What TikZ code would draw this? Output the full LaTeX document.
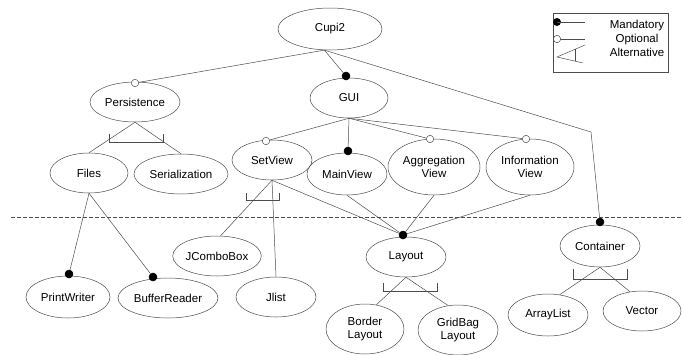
\documentclass[tikz,border=0pt]{standalone}
\usepackage{fontspec}
\setmainfont{Liberation Sans}
\usetikzlibrary{shapes.geometric}

\begin{document}
\begin{tikzpicture}[x=1pt,y=-1pt,line width=0.5pt,draw=black!70,
  feat/.style={ellipse,draw=black!70,inner sep=0pt,align=center,text=black,
    font=\fontsize{11.5}{13.5}\selectfont},
  man/.style={circle,draw=black,fill=black,inner sep=0pt,minimum size=8pt},
  opt/.style={circle,draw=black!70,fill=white,inner sep=0pt,minimum size=7.5pt}]
  \useasboundingbox (0,0) rectangle (682,354);
  \node[feat,minimum width=104pt,minimum height=42pt] (cupi) at (330,29) {Cupi2};
  \node[feat,minimum width=90pt,minimum height=40pt] (persist) at (135,102) {Persistence};
  \node[feat,minimum width=78pt,minimum height=40pt] (gui) at (349,98) {GUI};
  \node[feat,minimum width=78pt,minimum height=40pt] (files) at (89,173) {Files};
  \node[feat,minimum width=94pt,minimum height=40pt] (serial) at (181,174) {Serialization};
  \node[feat,minimum width=80pt,minimum height=40pt] (setview) at (272,160) {SetView};
  \node[feat,minimum width=80pt,minimum height=42pt] (mainview) at (347,174) {MainView};
  \node[feat,minimum width=92pt,minimum height=56pt] (aggview) at (434,167) {Aggregation\\View};
  \node[feat,minimum width=88pt,minimum height=56pt] (infoview) at (530,167) {Information\\View};
  \node[feat,minimum width=84pt,minimum height=40pt] (combo) at (217,256) {JComboBox};
  \node[feat,minimum width=80pt,minimum height=40pt] (jlist) at (276,297) {Jlist};
  \node[feat,minimum width=84pt,minimum height=42pt] (printw) at (68,297) {PrintWriter};
  \node[feat,minimum width=100pt,minimum height=40pt] (bufread) at (168,298) {BufferReader};
  \node[feat,minimum width=80pt,minimum height=40pt] (layout) at (406,257) {Layout};
  \node[feat,minimum width=78pt,minimum height=50pt] (border) at (365,329) {Border\\Layout};
  \node[feat,minimum width=80pt,minimum height=50pt] (gridbag) at (458,330) {GridBag\\Layout};
  \node[feat,minimum width=80pt,minimum height=42pt] (contain) at (600,246) {Container};
  \node[feat,minimum width=80pt,minimum height=42pt] (arrlist) at (548,315) {ArrayList};
  \node[feat,minimum width=78pt,minimum height=40pt] (vector) at (642,311) {Vector};
  \node[opt] (opers) at (135,83) {};
  \node[man] (dgui) at (346,76) {};
  \node[opt] (osetv) at (266,141) {};
  \node[man] (dmain) at (348,151) {};
  \node[opt] (oagg) at (430,139) {};
  \node[opt] (oinfo) at (526,139) {};
  \node[man] (dlay) at (403,235) {};
  \node[man] (dcont) at (600,222) {};
  \node[man] (dprint) at (69,274) {};
  \node[man] (dbuf) at (153,277) {};
  \coordinate (bend) at (591,132);
  \draw (cupi.255) -- (opers);
  \draw (cupi.255) -- (dgui);
  \draw (cupi.255) -- (bend) -- (dcont);
  \draw (gui.south) -- (osetv);
  \draw (gui.south) -- (dmain);
  \draw (gui.south) -- (oagg);
  \draw (gui.south) -- (oinfo);
  \draw (files.south) -- (dprint);
  \draw (files.south) -- (dbuf);
  \draw (setview.south) -- (dlay);
  \draw (mainview.south) -- (dlay);
  \draw (aggview.south) -- (dlay);
  \draw (infoview.south) -- (dlay);
  \draw (persist.south) -- (files.north);
  \draw (persist.south) -- (serial.north);
  \draw (109,134) -- (109,142) -- (163,142) -- (163,134);
  \draw (setview.south) -- (combo.80);
  \draw (setview.south) -- (jlist.north);
  \draw (246,193) -- (246,200) -- (279,200) -- (279,193);
  \draw (layout.south) -- (border.65);
  \draw (layout.south) -- (gridbag.112);
  \draw (383,283) -- (383,291) -- (437,291) -- (437,283);
  \draw (contain.south) -- (arrlist.60);
  \draw (contain.south) -- (vector.122);
  \draw (573,269) -- (573,279) -- (627,279) -- (627,269);
  \draw[dash pattern=on 4pt off 2pt] (11,217) -- (682,217);
  \draw (553,13) rectangle (668,72);
  \fill (557,22) circle (4);
  \draw (557,22) -- (585,22);
  \draw (561,39) -- (585,39);
  \draw (557,39) circle (3.7);
  \draw (585,45) -- (557,57) -- (583,63);
  \draw (575,49) -- (575,61);
  \node[align=center,font=\fontsize{11.5}{14}\selectfont] (legend) at (637,38) {Mandatory\\Optional\\Alternative};
\end{tikzpicture}
\end{document}
